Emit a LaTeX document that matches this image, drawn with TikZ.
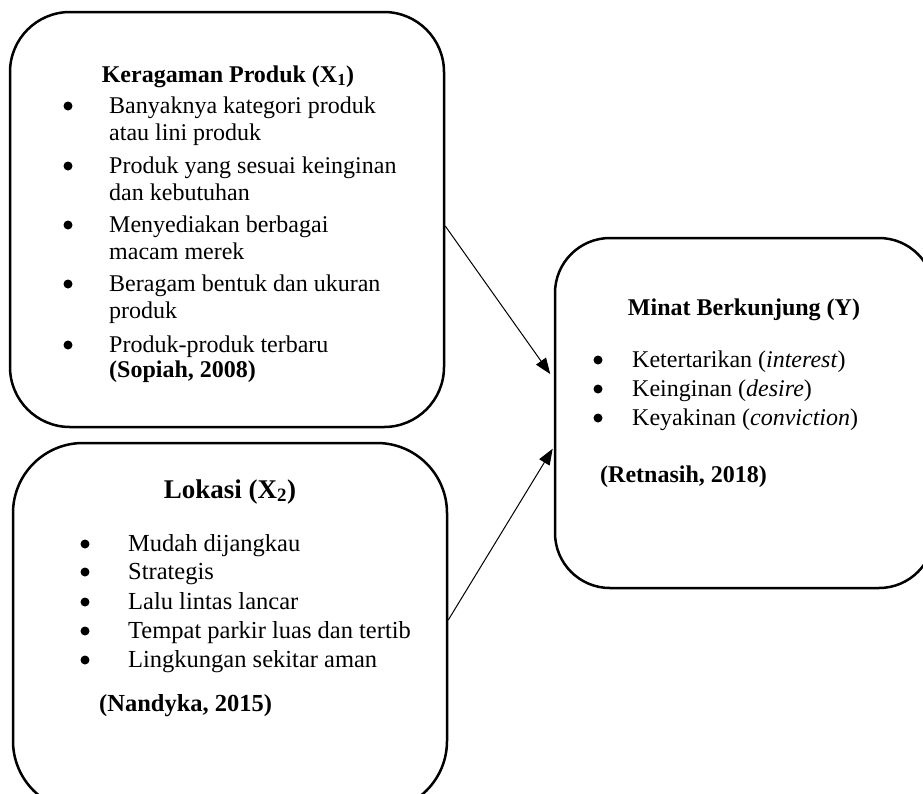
\documentclass[tikz,border=0pt]{standalone}
\usepackage{fontspec}
\setmainfont{Liberation Serif}
\usetikzlibrary{arrows.meta}

\begin{document}
\begin{tikzpicture}[x=1pt,y=-1pt,
  kotak/.style={draw,line width=2.5pt,rounded corners=60pt,inner sep=0pt},
  baris/.style={anchor=base west,inner sep=0pt,font=\fontsize{24}{28}\selectfont},
  judul/.style={anchor=base,inner sep=0pt,font=\fontsize{24}{28}\selectfont\bfseries},
  titik/.style={circle,fill,inner sep=0pt,minimum size=9pt},
  panah/.style={line width=1pt,-{Triangle[length=16pt,width=12pt]}}]
\useasboundingbox (0,0) rectangle (923,793);
\clip (0,0) rectangle (923,793);

\node[kotak,minimum width=434pt,minimum height=415pt] (kp) at (227,219.5) {};
\node[kotak,minimum width=434pt,minimum height=368pt,rounded corners=70pt] (lok) at (230,627) {};
\node[kotak,minimum width=379pt,minimum height=350pt,rounded corners=55pt] (mb) at (744.5,413) {};

\node[judul] (kp-judul) at (228,82) {Keragaman Produk (X\textsubscript{1})};
\foreach \y [count=\i] in {113,173,232,291,352}
  \node[titik] (kp-b\i) at (68,\y-7) {};
\foreach \y/\t [count=\i] in {113/Banyaknya kategori produk,140/atau lini produk,
    173/Produk yang sesuai keinginan,200/dan kebutuhan,232/Menyediakan berbagai,
    259/macam merek,291/Beragam bentuk dan ukuran,318/produk,352/Produk-produk terbaru}
  \node[baris] (kp-t\i) at (109,\y) {\t};
\node[baris,font=\fontsize{24}{28}\selectfont\bfseries] (kp-sumber) at (109,377) {(Sopiah, 2008)};

\node[judul,font=\fontsize{27}{32}\selectfont\bfseries] (lok-judul) at (230,498) {Lokasi (X\textsubscript{2})};
\foreach \y/\t [count=\i] in {551/Mudah dijangkau,579/Strategis,609/Lalu lintas lancar,
    638/Tempat parkir luas dan tertib,667/Lingkungan sekitar aman}{
  \node[titik] (lok-b\i) at (85,\y-7) {};
  \node[baris,font=\fontsize{24.5}{29}\selectfont] (lok-t\i) at (128,\y) {\t};
}
\node[baris,font=\fontsize{24.5}{29}\selectfont\bfseries] (lok-sumber) at (99,711) {(Nandyka, 2015)};

\node[judul] (mb-judul) at (744,315) {Minat Berkunjung (Y)};
\foreach \y/\t [count=\i] in {367/Ketertarikan (\textit{interest}),396/Keinginan (\textit{desire}),
    425/Keyakinan (\textit{conviction})}{
  \node[titik] (mb-b\i) at (598,\y-7) {};
  \node[baris] (mb-t\i) at (632,\y) {\t};
}
\node[baris,font=\fontsize{24}{28}\selectfont\bfseries] (mb-sumber) at (600,482) {(Retnasih, 2018)};

\coordinate (a1) at (0,226);
\coordinate (a2) at (0,379);
\coordinate (b1) at (0,620);
\coordinate (b2) at (0,447);
\draw[panah,shorten >=6pt] (kp.east |- a1) -- (mb.west |- a2);
\draw[panah,shorten >=2pt] (lok.east |- b1) -- (mb.west |- b2);
\end{tikzpicture}
\end{document}
